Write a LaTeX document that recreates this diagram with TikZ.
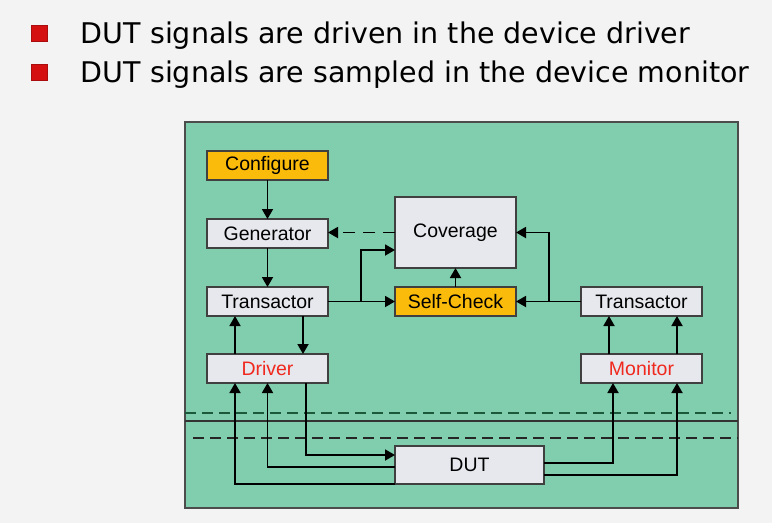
\documentclass[tikz,border=0pt]{standalone}
\usepackage{fontspec}
\setmainfont{Liberation Sans}
\newfontfamily\slidefont{DejaVu Sans}
\usepackage{tikz}
\usetikzlibrary{positioning}
\usetikzlibrary{arrows.meta}
\tikzset{>={Triangle[width=11pt,length=10pt]}}

\definecolor{slidebg}{RGB}{243,243,243}
\definecolor{benchgreen}{RGB}{128,206,174}
\definecolor{boxgray}{RGB}{230,232,238}
\definecolor{keyorange}{RGB}{250,187,10}
\definecolor{labelred}{RGB}{240,40,30}
\definecolor{bulletred}{RGB}{212,16,16}
\definecolor{linegreen}{RGB}{28,88,58}

\begin{document}
\begin{tikzpicture}[x=1pt, y=-1pt, line width=1.8pt, compnode/.style={rectangle, draw=black!75, fill=boxgray, line width=1.3pt, minimum width=121pt, minimum height=29pt, inner sep=0pt, outer sep=0pt, font=\fontsize{19.5}{22}\selectfont}, keynode/.style={compnode, fill=keyorange}, bignode/.style={compnode, minimum height=71pt}, benchnode/.style={rectangle, draw=black!70, fill=benchgreen, line width=1.5pt, minimum width=553pt, minimum height=386pt, inner sep=0pt}, textnode/.style={draw=none, fill=none, inner sep=0pt, font=\slidefont\fontsize{28.5}{32}\selectfont}, marknode/.style={rectangle, draw=bulletred!80!black, fill=bulletred, line width=0.6pt, minimum size=16pt, inner sep=0pt}]

    \useasboundingbox (0,0) rectangle (772,523);
    \fill[slidebg] (0,0) rectangle (772,523);

    %Slide text
    \node[marknode](mark_one) at (39,33) {};
    \node[marknode](mark_two) at (39,72.5) {};
    \node[textnode, anchor=base west](point_one) at (80,43) {DUT signals are driven in the device driver};
    \node[textnode, anchor=base west](point_two) at (80,82) {DUT signals are sampled in the device monitor};

    %Nodes
    \node[benchnode](bench) at (461.5,315) {};
    \node[keynode](configure) at (267.5,165.5) {Configure};
    \node[compnode](generator)[below=39pt of configure]{Generator};
    \node[compnode](transactor_left)[below=39pt of generator]{Transactor};
    \node[compnode, text=labelred](driver)[below=38pt of transactor_left]{Driver};
    \node[keynode](self_check)[right=67pt of transactor_left]{Self-Check};
    \node[bignode](coverage)[above=19pt of self_check]{Coverage};
    \node[compnode](transactor_right)[right=65pt of self_check]{Transactor};
    \node[compnode, text=labelred](monitor)[below=38pt of transactor_right]{Monitor};
    \node[compnode, minimum width=149pt, minimum height=38pt](dut) at (469.5,465) {DUT};

    %Layer lines
    \draw[linegreen, line width=2pt, dash pattern=on 11pt off 6pt] (185,413) -- (731,413);
    \draw[black!80, line width=1.4pt] (185,421) -- (738,421);
    \draw[black!85, line width=2pt, dash pattern=on 11pt off 6pt] (193,438) -- (738,438);

    %Lines
    \draw[->] (configure.south) -- (generator.north);
    \draw[->] (generator.south) -- (transactor_left.north);
    \draw[->, dash pattern=on 12pt off 8pt] (coverage.west) -- (coverage.west -| generator.east);
    \draw[->] (transactor_left.east) -- (self_check.west);
    \draw[->] (transactor_left.east) ++(33,0) |- ([yshift=-17.5pt]coverage.west);
    \draw[->] (self_check.north) -- (coverage.south);
    \draw[->] (transactor_right.west) -- (self_check.east);
    \draw[->] (self_check.east) ++(33,0) |- (coverage.east);
    \draw[->] ([xshift=-32.5pt]driver.north) -- ([xshift=-32.5pt]transactor_left.south);
    \draw[->] ([xshift=35.5pt]transactor_left.south) -- ([xshift=35.5pt]driver.north);
    \draw[->] ([xshift=-32.5pt]monitor.north) -- ([xshift=-32.5pt]transactor_right.south);
    \draw[->] ([xshift=35.5pt]monitor.north) -- ([xshift=35.5pt]transactor_right.south);
    \draw[->] ([xshift=38.5pt]driver.south) |- ([yshift=10pt]dut.west);
    \draw[->] ([yshift=-2pt]dut.west) -| (driver.south);
    \draw[->] (dut.south west) -| ([xshift=-32.5pt]driver.south);
    \draw[->] ([yshift=2pt]dut.east) -| ([xshift=-28.5pt]monitor.south);
    \draw[->] ([yshift=-10pt]dut.east) -| ([xshift=35.5pt]monitor.south);

\end{tikzpicture}
\end{document}
